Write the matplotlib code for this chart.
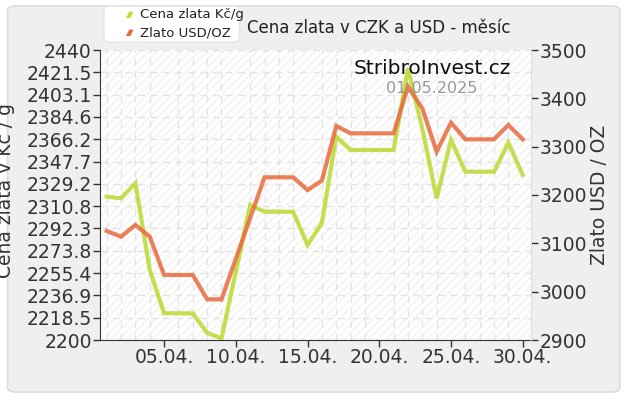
#!/usr/bin/env python3

"""
Gold price in CZK/g and USD/oz over one month (April 2025).
"""

import matplotlib.pyplot as plt
import numpy as np
from matplotlib.patches import FancyBboxPatch

# Data, one point per day of April
days = list(range(1, 31))
czk_per_g = [2318.6, 2317.3, 2329.7, 2257.9, 2222.1, 2222.1, 2222.0, 2206.0, 2201.3, 2256.6,
             2311.7, 2306.2, 2306.2, 2306.0, 2278.6, 2297.0, 2368.3, 2357.2, 2357.2, 2357.2,
             2357.2, 2424.8, 2375.0, 2317.3, 2365.5, 2339.3, 2339.3, 2339.3, 2363.3, 2336.6]
usd_per_oz = [3125.5, 3113.8, 3138.0, 3113.8, 3034.5, 3034.5, 3034.5, 2984.2, 2984.0, 3068.2,
              3152.4, 3236.6, 3236.6, 3236.6, 3210.3, 3229.7, 3342.8, 3327.6, 3327.6, 3327.6,
              3327.6, 3424.1, 3379.3, 3289.6, 3349.6, 3315.2, 3315.2, 3315.2, 3344.8, 3315.2]

x_ticks = [5, 10, 15, 20, 25, 30]
x_labels = ['05.04.', '10.04.', '15.04.', '20.04.', '25.04.', '30.04.']
left_ticks = np.linspace(2200, 2440, 14)
right_ticks = [2900, 3000, 3100, 3200, 3300, 3400, 3500]

green = '#bcdc3c'
orange = '#e86a3e'
txt = '#333333'

fig = plt.figure(figsize=(6.3, 4.0), dpi=100, facecolor='white')

# rounded grey panel behind everything
panel = FancyBboxPatch((0.012, 0.02), 0.972, 0.965, boxstyle='round,pad=0,rounding_size=0.012',
                       transform=fig.transFigure, facecolor='#efefef', edgecolor='#dddddd',
                       linewidth=1.2, zorder=-10)
fig.patches.append(panel)

ax = fig.add_axes([0.1587, 0.15, 0.6842, 0.725])
ax.set_facecolor('white')
ax.fill_between([0, 31], 2200, 2440, facecolor='none', edgecolor='#f2f2f2',
                hatch='////', linewidth=0, zorder=0)

ax.plot(days, czk_per_g, color=green, linewidth=3, alpha=0.9, solid_joinstyle='miter', zorder=3)
ax.set_xlim(0.53, 30.58)
ax.set_ylim(2200, 2440)
ax.set_yticks(left_ticks)
ax.set_yticklabels(['%g' % round(v, 1) for v in left_ticks])
ax.set_xticks(x_ticks)
ax.set_xticklabels(x_labels)
ax.set_xticks(days, minor=True)
ax.tick_params(axis='both', labelsize=13.5, colors=txt, length=5, width=1, pad=1)
ax.tick_params(axis='x', which='minor', length=0)
ax.grid(True, which='major', axis='y', color='#e3e3e3', linestyle=(0, (5, 4)), linewidth=1)
ax.grid(True, which='minor', axis='x', color='#e3e3e3', linestyle=(0, (5, 4)), linewidth=1)
ax.set_axisbelow(True)
for side in ['top', 'right']:
    ax.spines[side].set_visible(False)
for side in ['left', 'bottom']:
    ax.spines[side].set_color(txt)

ax2 = ax.twinx()
ax2.plot(days, usd_per_oz, color=orange, linewidth=3, alpha=0.85, solid_joinstyle='miter', zorder=3)
ax2.set_ylim(2900, 3500)
ax2.set_yticks(right_ticks)
ax2.tick_params(axis='y', labelsize=13.5, colors=txt, length=5, width=1, pad=1)
for side in ['top', 'left', 'bottom']:
    ax2.spines[side].set_visible(False)
ax2.spines['right'].set_color('#dddddd')
ax2.set_ylabel('Zlato USD / OZ', fontsize=13.5, color=txt, labelpad=2)

fig.text(-0.008, 0.525, 'Cena zlata v Kč / g', rotation=90, fontsize=13.5, color=txt,
         ha='left', va='center')

fig.text(0.392, 0.93, 'Cena zlata v CZK a USD - měsíc', fontsize=12, color='#222222',
         ha='left', va='center')

# legend box
leg_box = FancyBboxPatch((0.165, 0.895), 0.215, 0.09, boxstyle='round,pad=0,rounding_size=0.01',
                         transform=fig.transFigure, facecolor='white', edgecolor='#e6e6e6',
                         linewidth=1)
fig.patches.append(leg_box)
for i, (lab, col) in enumerate([('Cena zlata Kč/g', green), ('Zlato USD/OZ', orange)]):
    y = 0.963 - i * 0.045
    fig.patches.append(plt.Polygon([[0.2, y - 0.008], [0.207, y - 0.008], [0.212, y + 0.008],
                                    [0.205, y + 0.008]], closed=True, transform=fig.transFigure,
                                   facecolor=col, edgecolor='none'))
    fig.text(0.222, y, lab, fontsize=9.5, color='#222222', ha='left', va='center')

fig.text(0.686, 0.83, 'StribroInvest.cz', fontsize=14.5, color='#111111', ha='center', va='center')
fig.text(0.686, 0.778, '01.05.2025', fontsize=11.5, color='#999999', ha='center', va='center')

fig.savefig('out.png', dpi=100, facecolor=fig.get_facecolor())
